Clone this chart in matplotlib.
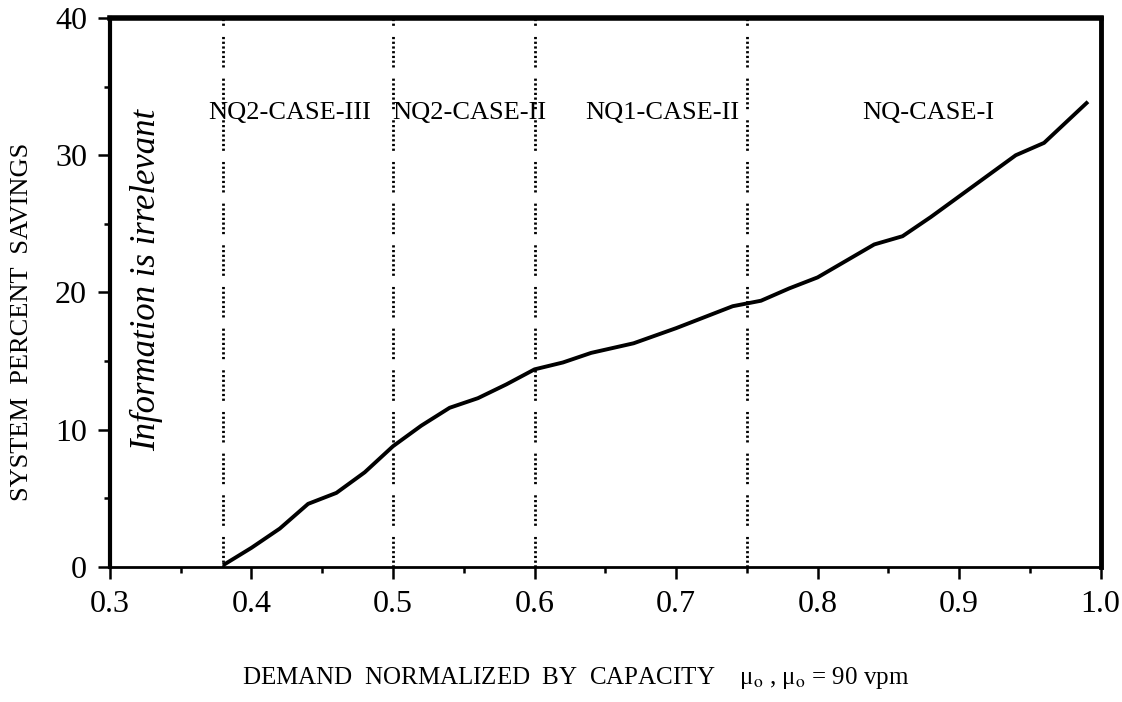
import numpy as np
import matplotlib
matplotlib.use('Agg')
import matplotlib.pyplot as plt

plt.rcParams['font.family'] = ['Liberation Serif', 'DejaVu Serif']
plt.rcParams['mathtext.fontset'] = 'stix'

# demand normalized by capacity vs system percent savings
demand = [0.381, 0.40, 0.42, 0.44, 0.46, 0.48, 0.50, 0.52, 0.54, 0.56, 0.58,
          0.60, 0.62, 0.64, 0.67, 0.70, 0.72, 0.74, 0.76, 0.78, 0.80,
          0.82, 0.84, 0.86, 0.88, 0.90, 0.92, 0.94, 0.96, 0.99]
savings = [0.2, 1.4, 2.8, 4.6, 5.4, 6.9, 8.8, 10.3, 11.6, 12.3, 13.3,
           14.4, 14.9, 15.6, 16.3, 17.4, 18.2, 19.0, 19.4, 20.3, 21.1,
           22.3, 23.5, 24.1, 25.5, 27.0, 28.5, 30.0, 30.9, 33.8]

# region boundaries and names
bounds = [0.38, 0.50, 0.60, 0.75]
region_names = ['NQ2-CASE-III', 'NQ2-CASE-II', 'NQ1-CASE-II', 'NQ-CASE-I']
region_x = [0.427, 0.554, 0.690, 0.878]

fig = plt.figure(figsize=(11.22, 7.02), dpi=100)
ax = fig.add_axes([0.098, 0.1923, 0.883, 0.7821])

# dotted boundaries
for b in bounds:
    ax.plot([b, b], [0, 40], color='black', lw=2.0,
            linestyle=(0, (0.8, 0.9, 0.8, 0.9, 0.8, 0.9, 0.8, 0.9, 0.8, 0.9, 0.8, 0.9, 0.8, 4)),
            dash_capstyle='butt')

ax.plot(demand, savings, color='black', lw=2.8, solid_joinstyle='round')

for name, xr in zip(region_names, region_x):
    ax.text(xr, 33.1, name, ha='center', va='center', fontsize=19)

ax.text(0.326, 20.9, 'Information is irrelevant', rotation=90, style='italic',
        ha='center', va='center', fontsize=25)

ax.set_xlim(0.3, 1.0)
ax.set_ylim(0, 40)
ax.set_xticks([0.3, 0.4, 0.5, 0.6, 0.7, 0.8, 0.9, 1.0])
ax.set_xticklabels(['0.3', '0.4', '0.5', '0.6', '0.7', '0.8', '0.9', '1.0'])
ax.set_xticks(np.arange(0.35, 1.0, 0.1), minor=True)
ax.set_yticks([0, 10, 20, 30, 40])
ax.set_yticks([5, 15, 25, 35], minor=True)

ax.tick_params(which='major', direction='out', length=8.5, width=1.8,
               labelsize=23, pad=8)
ax.tick_params(which='minor', direction='out', length=4.5, width=1.8)

ax.spines['top'].set_linewidth(4)
ax.spines['left'].set_linewidth(3)
ax.spines['right'].set_linewidth(3.5)
ax.spines['bottom'].set_linewidth(2)

ax.set_xlabel('DEMAND  NORMALIZED  BY  CAPACITY    μ$_\\mathrm{o}$ , μ$_\\mathrm{o}$ = 90 vpm',
              fontsize=18)
ax.xaxis.set_label_coords(0.47, -0.178)
ax.set_ylabel('SYSTEM  PERCENT  SAVINGS', fontsize=19)
ax.yaxis.set_label_coords(-0.078, 0.446)

plt.savefig('out.png', dpi=100)
